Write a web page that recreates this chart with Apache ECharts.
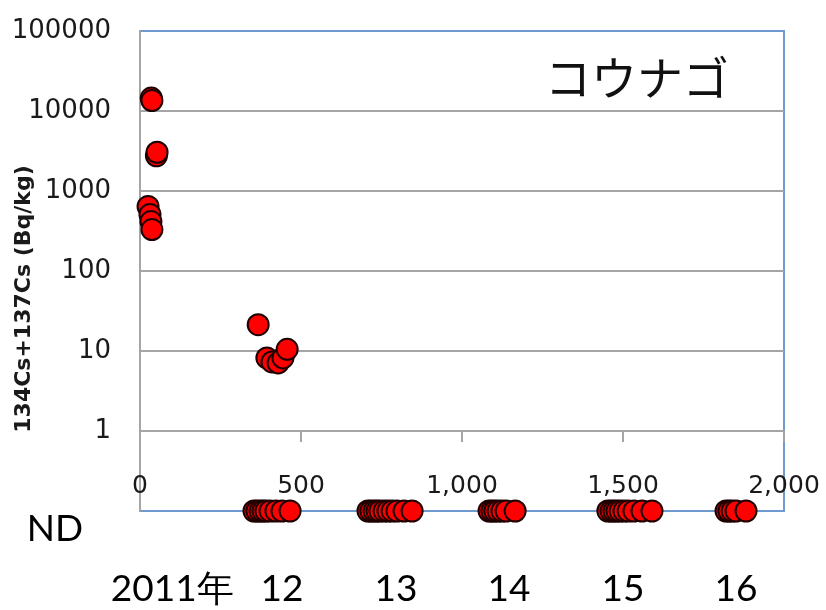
<!DOCTYPE html>
<html>
<head>
<meta charset="utf-8">
<title>コウナゴ 134Cs+137Cs</title>
<script src="https://cdn.jsdelivr.net/npm/echarts@6/dist/echarts.min.js"></script>
<style>
  html, body { margin: 0; padding: 0; background: #ffffff; }
  #chart { width: 826px; height: 610px; }
</style>
</head>
<body>
<div id="chart"></div>
<script>
// Days since the start of sampling (x) and measured caesium (Bq/kg, y) for detected samples
const detectedDays = [25, 31, 34, 37, 35, 37, 51, 53, 367, 394, 410, 429, 444, 457];
const detectedBq   = [640, 510, 415, 330, 14500, 13500, 2750, 3050, 21.3, 8.2, 7.3, 7.1, 8.2, 10.5];

// Samples below the detection limit (ND), grouped by survey year
const ndDays2012 = [354, 363, 373, 382, 391, 404, 422, 441, 466];
const ndDays2013 = [708, 717, 727, 736, 745, 758, 770, 783, 798, 820, 845];
const ndDays2014 = [1084, 1093, 1102, 1112, 1124, 1137, 1165];
const ndDays2015 = [1453, 1463, 1472, 1481, 1491, 1503, 1516, 1534, 1559, 1590];
const ndDays2016 = [1820, 1829, 1839, 1851, 1882];
const ND_LEVEL = 0.1; // ND samples sit on the floor of the log axis

// Year captions under the plot, placed at these day positions
const yearTickDays   = [100, 441, 795, 1146, 1500, 1851];
const yearTickLabels = ['2011年', '12', '13', '14', '15', '16'];

// Axis ranges
const X_MIN = 0, X_MAX = 2000, X_STEP = 500;
const Y_MIN = 0.1, Y_MAX = 100000;

const speciesName = 'コウナゴ';
const yAxisTitle = '134Cs+137Cs (Bq/kg)';

const detectedPoints = detectedDays.map((d, i) => [d, detectedBq[i]]);
const ndDays = [].concat(ndDays2012, ndDays2013, ndDays2014, ndDays2015, ndDays2016);
const ndPoints = ndDays.map(d => [d, ND_LEVEL]);

const markerStyle = {
  color: '#ff0000',
  opacity: 1,
  borderColor: '#1e0000',
  borderWidth: 2
};

const chart = echarts.init(document.getElementById('chart'), null, { renderer: 'canvas' });

const option = {
  animation: false,
  backgroundColor: '#ffffff',
  grid: {
    left: 140, right: 42, top: 31, bottom: 99,
    containLabel: false,
    outerBoundsMode: 'none',
    show: true,
    borderColor: '#6f9ad0',
    borderWidth: 2,
    backgroundColor: 'transparent'
  },
  xAxis: {
    type: 'value',
    min: X_MIN, max: X_MAX, interval: X_STEP,
    position: 'bottom',
    offset: -80,
    axisLine: { show: true, lineStyle: { color: '#a5a5a5', width: 2 } },
    axisTick: { show: true, length: 11, lineStyle: { color: '#a5a5a5', width: 2 } },
    splitLine: { show: false },
    axisLabel: {
      margin: 43,
      fontFamily: 'DejaVu Sans',
      fontSize: 25,
      color: '#1a1a1a',
      formatter: v => v.toLocaleString('en-US')
    }
  },
  yAxis: {
    type: 'log',
    logBase: 10,
    min: Y_MIN, max: Y_MAX,
    axisLine: { show: true, lineStyle: { color: '#a5a5a5', width: 2 } },
    axisTick: { show: false },
    splitLine: {
      show: true,
      showMinLine: false,
      showMaxLine: false,
      lineStyle: { color: '#a5a5a5', width: 2 }
    },
    axisLabel: {
      margin: 29,
      fontFamily: 'DejaVu Sans',
      fontSize: 26,
      color: '#1a1a1a',
      formatter: v => (v < 1 ? '' : String(Math.round(v)))
    }
  },
  series: [
    {
      name: 'ND',
      type: 'scatter',
      data: ndPoints,
      symbol: 'circle',
      symbolSize: 21,
      clip: false,
      itemStyle: markerStyle,
      z: 5
    },
    {
      name: speciesName,
      type: 'scatter',
      data: detectedPoints,
      symbol: 'circle',
      symbolSize: 21,
      clip: false,
      itemStyle: markerStyle,
      z: 6
    }
  ]
};

chart.setOption(option);

// Captions outside the plot: axis title, species name, ND marker and survey years
const yearY = 589;
const graphics = [
  {
    type: 'text',
    x: 24, y: 299,
    rotation: Math.PI / 2,
    style: {
      text: yAxisTitle,
      font: 'bold 22px "DejaVu Sans"',
      fill: '#1a1a1a',
      align: 'center',
      verticalAlign: 'middle'
    }
  },
  {
    type: 'text',
    x: 637, y: 78,
    style: {
      text: speciesName,
      font: '46px "Noto Sans CJK JP"',
      fill: '#111111',
      align: 'center',
      verticalAlign: 'middle'
    }
  },
  {
    type: 'text',
    x: 55, y: 529,
    style: {
      text: 'ND',
      font: '37px Lato',
      fill: '#000000',
      align: 'center',
      verticalAlign: 'middle'
    }
  }
];
yearTickDays.forEach((d, i) => {
  const px = chart.convertToPixel({ xAxisIndex: 0 }, d);
  graphics.push({
    type: 'text',
    x: px, y: yearY,
    style: {
      text: yearTickLabels[i],
      font: '37px Lato',
      fill: '#000000',
      align: 'center',
      verticalAlign: 'middle'
    }
  });
});
chart.setOption({ graphic: graphics });
</script>
</body>
</html>
